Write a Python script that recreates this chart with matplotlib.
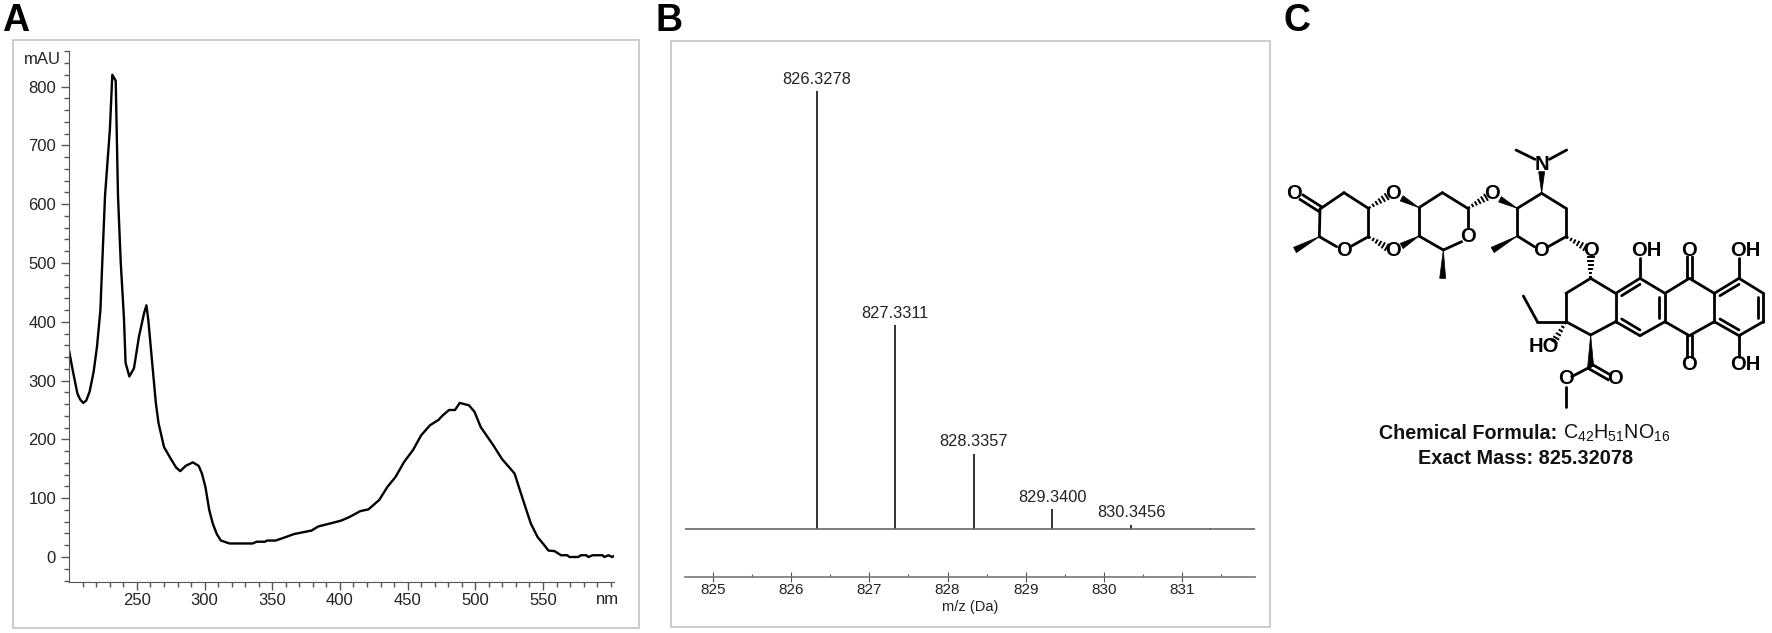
import matplotlib
matplotlib.use('Agg')
import matplotlib.pyplot as plt
import numpy as np
from matplotlib.patches import Polygon, Rectangle

plt.rcParams['font.family'] = ['Liberation Sans', 'DejaVu Sans']
plt.rcParams['mathtext.fontset'] = 'custom'
plt.rcParams['mathtext.rm'] = 'Liberation Sans'

W, H = 1772, 633

# Panel A: UV-Vis spectrum
wavelength = [200, 202.5, 206, 208, 210.3, 212.5, 215, 218, 220.5, 223, 224, 226.4, 230, 231.8,
              234.3, 236, 238, 240.4, 241.6, 244.4, 247.8, 251.5, 255.3, 257, 258.4, 261.5, 264,
              266, 270, 275, 279, 282, 286, 291.3, 295.6, 298, 300.6, 303.4, 306, 309, 312,
              318.4, 335.4, 338.5, 344.7, 346, 352.5, 360, 366, 379, 384, 394.4, 401, 407, 415,
              421, 429, 435, 441, 447.5, 454, 460, 466.5, 472.7, 476, 480.6, 485, 488.5, 495.3,
              499.4, 504, 513.3, 519.6, 529, 535, 541, 546, 551, 554, 558.6, 563.3, 568, 569.5,
              576, 578, 582, 583.6, 586.7, 594, 595.3, 598.5, 601, 602.7]
absorbance = [349, 318, 278, 268, 262, 266, 281, 315, 358, 420, 479, 614, 727, 820,
              810, 614, 502, 406, 330, 307, 321, 375, 415, 428, 403, 324, 261,
              227, 187, 167, 152, 146, 155, 161, 155, 142, 119, 80, 57, 39, 28,
              23, 23, 26, 26, 28, 28, 34, 39, 45, 52, 58, 62, 68, 78,
              81, 97, 119, 136, 162, 182, 207, 224, 233, 241, 250, 250, 262, 258,
              247, 221, 190, 167, 142, 99, 57, 34, 20, 11, 10, 3, 3, 0,
              0, 3, 3, 0, 3, 3, 0, 3, 0, 2]
a_major_x = [250, 300, 350, 400, 450, 500, 550]
a_major_y = [0, 100, 200, 300, 400, 500, 600, 700, 800]

# Panel B: mass spectrum
mz_peaks = [826.3278, 827.3311, 828.3357, 829.3400, 830.3456]
mz_heights = [100, 46.5, 17.2, 4.6, 1.0]
mz_labels = ['826.3278', '827.3311', '828.3357', '829.3400', '830.3456']
mz_small_x = [831.35]
mz_small_y = [0.3]
mz_ticks = [825, 826, 827, 828, 829, 830, 831]

# Panel C: structure, coordinates in the units of a 3x crop of the panel
single_bonds = [
    ((150, 207), (222, 158)), ((222, 158), (295, 205)), ((295, 205), (295, 290)),
    ((295, 290), (245, 318)), ((148, 290), (200, 320)), ((148, 290), (150, 207)),
    ((447, 203), (517, 158)), ((517, 158), (593, 205)), ((593, 205), (593, 265)),
    ((575, 305), (520, 330)), ((520, 330), (447, 288)), ((447, 288), (447, 203)),
    ((742, 205), (815, 160)), ((815, 160), (888, 205)), ((888, 205), (888, 290)),
    ((888, 290), (835, 320)), ((793, 320), (742, 288)), ((742, 288), (742, 205)),
    ((795, 58), (738, 30)), ((838, 58), (890, 30)),
    ((962, 415), (888, 460)), ((888, 460), (888, 545)), ((888, 545), (962, 585)),
    ((962, 585), (1037, 545)), ((1037, 545), (1037, 460)), ((1037, 460), (962, 415)),
    ((1037, 460), (1110, 415)), ((1110, 415), (1185, 460)), ((1185, 460), (1185, 545)),
    ((1185, 545), (1110, 587)), ((1110, 587), (1037, 545)),
    ((1185, 460), (1258, 415)), ((1258, 415), (1333, 460)), ((1333, 460), (1333, 545)),
    ((1333, 545), (1258, 587)), ((1258, 587), (1185, 545)),
    ((1333, 460), (1407, 415)), ((1407, 415), (1480, 460)), ((1480, 460), (1480, 545)),
    ((1480, 545), (1407, 587)), ((1407, 587), (1333, 545)),
    ((1110, 415), (1110, 355)), ((1407, 415), (1407, 355)), ((1407, 587), (1407, 650)),
    ((888, 545), (802, 545)), ((802, 545), (760, 468)),
    ((962, 680), (905, 710)), ((888, 740), (888, 800)),
    # inner lines of the aromatic rings
    ((1055, 467), (1110, 433)), ((1167, 470), (1167, 535)), ((1055, 537), (1110, 570)),
    ((1350, 467), (1407, 433)), ((1463, 470), (1463, 535)), ((1350, 537), (1407, 570)),
]
double_bonds = [
    ((95, 172), (150, 207)), ((1258, 415), (1258, 352)),
    ((1258, 587), (1258, 650)), ((962, 680), (1018, 712)),
]
wedges = [
    ((148, 290), (75, 330)), ((447, 203), (395, 175)), ((447, 288), (395, 318)),
    ((520, 330), (518, 415)), ((742, 205), (690, 178)), ((742, 288), (668, 330)),
    ((815, 160), (815, 95)), ((962, 585), (962, 680)),
]
hashes = [
    ((295, 205), (350, 170)), ((295, 290), (350, 322)), ((593, 205), (648, 172)),
    ((888, 290), (945, 322)), ((962, 415), (962, 350)), ((888, 545), (852, 605)),
]
atoms = [
    ('O', 73, 160), ('O', 222, 330), ('O', 368, 160), ('O', 368, 330), ('O', 593, 288),
    ('O', 665, 160), ('O', 813, 330), ('N', 815, 72), ('O', 962, 330), ('OH', 1130, 332),
    ('O', 1258, 330), ('OH', 1425, 332), ('O', 1258, 672), ('OH', 1425, 672),
    ('HO', 822, 620), ('O', 888, 717), ('O', 1035, 717),
]


def rect_px(x0, y0, x1, y1):
    return [x0 / W, 1 - y1 / H, (x1 - x0) / W, (y1 - y0) / H]


def cx(x):
    return 1270 + x / 3


def cy(y):
    return 140 + y / 3


fig = plt.figure(figsize=(W / 100, H / 100), dpi=100)

# overlay in pixel units for frames, panel letters and the structure
bg = fig.add_axes([0, 0, 1, 1])
bg.set_xlim(0, W)
bg.set_ylim(H, 0)
bg.axis('off')
for x0, y0, x1, y1 in [(13.5, 40, 639.5, 627.5), (670.7, 40.5, 1270, 627)]:
    bg.add_patch(Rectangle((x0, y0), x1 - x0, y1 - y0, fill=False, ec='#c8c8c8', lw=1.3))
for letter, x in zip('ABC', [2, 656, 1284]):
    bg.text(x, 31, letter, fontsize=27, fontweight='bold', va='baseline', color='k')

for a, b in single_bonds:
    bg.plot([cx(a[0]), cx(b[0])], [cy(a[1]), cy(b[1])], color='k', lw=2, solid_capstyle='round')
for a, b in double_bonds:
    a, b = np.array(a, float), np.array(b, float)
    n = np.array([-(b - a)[1], (b - a)[0]])
    n = n / np.hypot(*n) * 8
    for s in [-1, 1]:
        bg.plot([cx(a[0] + s * n[0]), cx(b[0] + s * n[0])],
                [cy(a[1] + s * n[1]), cy(b[1] + s * n[1])], color='k', lw=2)
for a, b in wedges:
    a, b = np.array(a, float), np.array(b, float)
    n = np.array([-(b - a)[1], (b - a)[0]])
    n = n / np.hypot(*n) * 9
    pts = [a, b + n, b - n]
    bg.add_patch(Polygon([(cx(p[0]), cy(p[1])) for p in pts], fc='k', ec='k', lw=0.5))
for a, b in hashes:
    a, b = np.array(a, float), np.array(b, float)
    n = np.array([-(b - a)[1], (b - a)[0]])
    n = n / np.hypot(*n)
    for t in np.linspace(0.08, 1, 6):
        p = a + (b - a) * t
        q = n * 9 * t
        bg.plot([cx(p[0] - q[0]), cx(p[0] + q[0])], [cy(p[1] - q[1]), cy(p[1] + q[1])],
                color='k', lw=1.4)
for label, x, y in atoms:
    bg.text(cx(x), cy(y), label, fontsize=14.5, fontweight='bold', ha='center', va='center', color='k')

bg.text(cx(862), cy(880), 'Chemical Formula:', fontsize=14.2, fontweight='bold',
        ha='right', va='center', color='#111111')
bg.text(cx(880), cy(880), r'$\mathrm{C_{42}H_{51}NO_{16}}$', fontsize=14.2,
        ha='left', va='center', color='#111111')
bg.text(cx(766), cy(957), 'Exact Mass: 825.32078', fontsize=14.3, fontweight='bold',
        ha='center', va='center', color='#111111')

# A
ax = fig.add_axes(rect_px(68.6, 51, 614.3, 582))
ax.plot(wavelength, absorbance, color='k', lw=1.7)
ax.set_xlim(199.5, 602.7)
ax.set_ylim(-42.5, 860.5)
ax.patch.set_alpha(0)
ax.spines['top'].set_visible(False)
ax.spines['right'].set_visible(False)
ax.spines['left'].set_color('#555555')
ax.spines['bottom'].set_color('#555555')
ax.set_xticks(a_major_x)
ax.set_yticks(a_major_y)
ax.set_xticks(np.arange(210, 601, 10), minor=True)
ax.set_yticks(np.arange(-40, 861, 20), minor=True)
ax.tick_params(which='major', length=6, width=1, color='#555555', labelsize=12,
               labelcolor='#222222', pad=3)
ax.tick_params(axis='x', which='major', pad=2)
ax.tick_params(which='minor', length=3.5, width=1, color='#555555')
ax.text(607, 599, 'nm', transform=bg.transData, fontsize=12, ha='center', va='center',
        color='#222222')
ax.text(61, 60, 'mAU', transform=bg.transData, fontsize=12, ha='right', va='center',
        color='#222222')

# B
ax2 = fig.add_axes(rect_px(684.7, 60, 1255, 577))
ax2.vlines(mz_peaks, 0, mz_heights, color='#333333', lw=1.4)
ax2.vlines(mz_small_x, 0, mz_small_y, color='#333333', lw=1.4)
ax2.axhline(0, color='#666666', lw=1.2)
for x, h, s in zip(mz_peaks, mz_heights, mz_labels):
    ax2.annotate(s, (x, h), xytext=(0, 3), textcoords='offset points', ha='center', va='bottom',
                 fontsize=11.8, color='#222222')
ax2.set_xlim(824.64, 831.93)
ax2.set_ylim(-10.96, 107)
ax2.patch.set_alpha(0)
for side in ['top', 'right', 'left']:
    ax2.spines[side].set_visible(False)
ax2.spines['bottom'].set_color('#777777')
ax2.spines['bottom'].set_linewidth(1.2)
ax2.set_yticks([])
ax2.set_xticks(mz_ticks)
ax2.set_xticks(np.arange(825.5, 831.6, 1), minor=True)
ax2.tick_params(which='major', direction='inout', length=7, width=0.8, color='#555555',
                labelsize=11, labelcolor='#222222', pad=1)
ax2.tick_params(which='minor', direction='in', length=2, width=0.8, color='#555555')
ax2.set_xlabel('m/z (Da)', fontsize=10.5, color='#222222', labelpad=2)

fig.savefig('out.png', dpi=100)
